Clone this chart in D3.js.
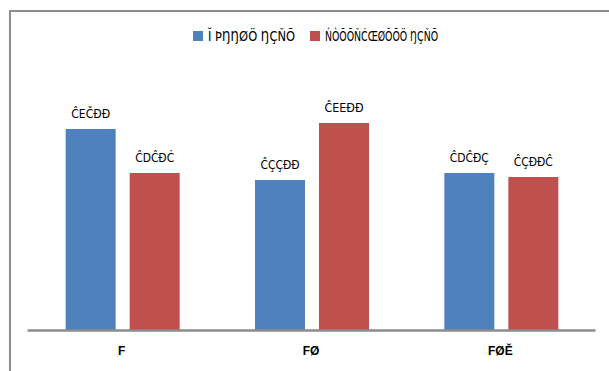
<!DOCTYPE html>
<html>
<head>
<meta charset="utf-8">
<script src="https://cdn.jsdelivr.net/npm/d3@7"></script>
<style>
  body { margin: 0; background: #fff; }
  svg { display: block; font-family: "Liberation Sans Narrow", "Arial Narrow", "DejaVu Sans Condensed", sans-serif; }
</style>
</head>
<body>
<div id="chart"></div>
<script>
const categories = ["F", "FØ", "FØĚ"];
const seriesNames = ["Ĭ ÞŊŊØÖ ŊÇŇÕ", "ŃÒÕÕŇĊŒØŎÕÖ ŊÇŇÕ"];
const seriesA = [201, 150, 157];
const seriesB = [157, 207, 153];
const labelsA = ["ĈEČĐĐ", "ĈÇÇĐĐ", "ĈDĈĐÇ"];
const labelsB = ["ĈDĈĐĊ", "ĈEEĐĐ", "ĈÇĐĐĈ"];
const colors = ["#4f81bd", "#c0504d"];

(function bars() {
  let width = 609,
    height = 371,
    margin = ({ top: 30, right: 14, bottom: 41, left: 27 });

  const svg = d3.select("#chart")
    .append("svg")
    .attr("width", width)
    .attr("height", height)
    .attr("viewBox", [0, 0, width, height]);

  // outer frame (only left and top visible)
  svg.append("path")
    .attr("d", `M10,${height} V11 H${width}`)
    .attr("fill", "none")
    .attr("stroke", "#8c8c8c")
    .attr("stroke-width", 2);

  const data = categories.map((c, i) => ({
    cat: c,
    vals: [
      { key: 0, value: seriesA[i], label: labelsA[i] },
      { key: 1, value: seriesB[i], label: labelsB[i] }
    ]
  }));

  let x = d3.scaleBand(categories, [margin.left, width - margin.right]);
  let bw = x.bandwidth();
  let x1 = d3.scaleBand([0, 1], [bw / 2 - 56, bw / 2 + 58]).paddingInner(0.219);
  let y = d3.scaleLinear([0, 300], [height - margin.bottom, margin.top]);

  const g = svg.append("g")
    .selectAll("g")
    .data(data)
    .join("g")
    .attr("transform", d => `translate(${x(d.cat)},0)`);

  g.selectAll("rect")
    .data(d => d.vals)
    .join("rect")
    .attr("x", d => x1(d.key))
    .attr("y", d => y(d.value))
    .attr("width", x1.bandwidth())
    .attr("height", d => y(0) - y(d.value))
    .attr("fill", d => colors[d.key]);

  g.selectAll("text")
    .data(d => d.vals)
    .join("text")
    .attr("x", d => x1(d.key) + x1.bandwidth() / 2)
    .attr("y", d => y(d.value) - 11)
    .attr("text-anchor", "middle")
    .attr("font-size", 13)
    .attr("textLength", 39)
    .attr("lengthAdjust", "spacingAndGlyphs")
    .attr("fill", "#000")
    .text(d => d.label);

  // category axis
  const axis = svg.append("g")
    .attr("transform", `translate(0,${y(0)})`)
    .call(d3.axisBottom(x).tickSize(0).tickPadding(16));
  axis.select(".domain").attr("stroke", "#8c8c8c").attr("stroke-width", 2.5);
  axis.selectAll("text")
    .attr("font-size", 12)
    .attr("font-weight", "bold")
    .attr("font-family", "inherit")
    .attr("fill", "#000");

  // legend
  const legendX = [193, 310];
  const legendW = [87, 113];
  const legend = svg.append("g")
    .selectAll("g")
    .data(seriesNames)
    .join("g")
    .attr("transform", (d, i) => `translate(${legendX[i]},31)`);
  legend.append("rect")
    .attr("width", 10)
    .attr("height", 10)
    .attr("fill", (d, i) => colors[i]);
  legend.append("text")
    .attr("x", 15)
    .attr("y", 5)
    .attr("dy", "0.35em")
    .attr("font-size", 14)
    .attr("textLength", (d, i) => legendW[i])
    .attr("lengthAdjust", "spacingAndGlyphs")
    .text(d => d);
})();
</script>
</body>
</html>
